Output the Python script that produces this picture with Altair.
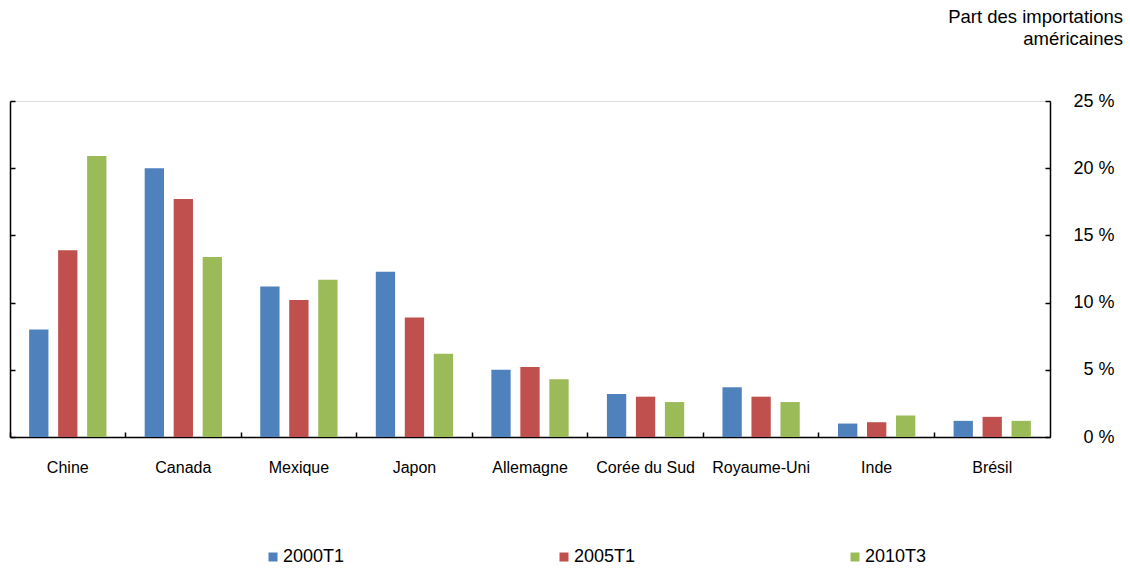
import altair as alt
import pandas as pd

# Part des importations américaines par pays d'origine (en %)
pays = ["Chine", "Canada", "Mexique", "Japon", "Allemagne",
        "Corée du Sud", "Royaume-Uni", "Inde", "Brésil"]
periodes = ["2000T1", "2005T1", "2010T3"]
part_2000t1 = [8.0, 20.0, 11.2, 12.3, 5.0, 3.2, 3.7, 1.0, 1.2]
part_2005t1 = [13.9, 17.7, 10.2, 8.9, 5.2, 3.0, 3.0, 1.1, 1.5]
part_2010t3 = [20.9, 13.4, 11.7, 6.2, 4.3, 2.6, 2.6, 1.6, 1.2]
graduations = [0, 5, 10, 15, 20, 25]
couleurs = ["#4F81BD", "#C0504D", "#9BBB59"]

rows = []
for periode, valeurs in zip(periodes, [part_2000t1, part_2005t1, part_2010t3]):
    for p, v in zip(pays, valeurs):
        rows.append({"Pays": p, "Période": periode, "Part": v})
df = pd.DataFrame(rows)

FONT = "Liberation Sans"
x_scale = alt.Scale(domain=pays, paddingInner=0, paddingOuter=0)
y_scale = alt.Scale(domain=[0, 25], nice=False, zero=True)
base = alt.Chart(df)

# Barres groupées, axe horizontal et axe gauche (trait seul)
barres = base.mark_bar().encode(
    x=alt.X("Pays:N", scale=x_scale, sort=pays,
            axis=alt.Axis(orient="bottom", title=None, labelAngle=0, ticks=False,
                          domainColor="black", domainWidth=1.5, labelPadding=22,
                          labelFontSize=16, labelColor="black", labelFont=FONT)),
    xOffset=alt.XOffset("Période:N", sort=periodes,
                        scale=alt.Scale(domain=periodes, paddingInner=0.334, paddingOuter=0.66)),
    y=alt.Y("Part:Q", scale=y_scale,
            axis=alt.Axis(orient="left", title=None, labels=False, ticks=False, grid=False,
                          domainColor="black", domainWidth=1.5)),
    color=alt.Color("Période:N", sort=periodes,
                    scale=alt.Scale(domain=periodes, range=couleurs),
                    legend=alt.Legend(title=None, orient="none", legendX=254, legendY=447,
                                      direction="horizontal", symbolType="square",
                                      symbolSize=81, symbolStrokeWidth=0,
                                      labelFontSize=18, labelFont=FONT, labelColor="black",
                                      labelOffset=1, columnPadding=210)),
)

# Graduations tournées vers l'intérieur en bas, axe droit avec étiquettes
droite = base.mark_point(opacity=0).encode(
    x=alt.X("Pays:N", scale=x_scale, sort=pays,
            axis=alt.Axis(orient="bottom", title=None, labels=False, domain=False,
                          ticks=True, tickSize=5, offset=-5, bandPosition=0,
                          tickColor="black", tickWidth=1.5, grid=False)),
    y=alt.Y("Part:Q", scale=y_scale,
            axis=alt.Axis(orient="right", title=None, values=graduations, ticks=False,
                          grid=False, domainColor="black", domainWidth=1.5,
                          labelExpr="datum.value + ' %'", labelAlign="right",
                          labelBaseline="middle", labelPadding=64, labelFontSize=18,
                          labelFont=FONT, labelColor="black")),
)

# Graduations intérieures des deux axes verticaux
grad_gauche = base.mark_point(opacity=0).encode(
    x=alt.X("Pays:N", scale=x_scale, sort=pays, axis=None),
    y=alt.Y("Part:Q", scale=y_scale,
            axis=alt.Axis(orient="left", title=None, values=graduations, labels=False,
                          domain=False, grid=False, ticks=True, tickSize=5, offset=-5,
                          tickColor="black", tickWidth=1.5)),
)
grad_droite = base.mark_point(opacity=0).encode(
    x=alt.X("Pays:N", scale=x_scale, sort=pays, axis=None),
    y=alt.Y("Part:Q", scale=y_scale,
            axis=alt.Axis(orient="right", title=None, values=graduations, labels=False,
                          domain=False, grid=False, ticks=True, tickSize=5, offset=-5,
                          tickColor="black", tickWidth=1.5)),
)

chart = (
    alt.layer(barres, droite, grad_gauche, grad_droite)
    .resolve_axis(x="independent", y="independent")
    .properties(
        width=1040,
        height=336,
        padding={"left": 10, "top": 101, "right": 80, "bottom": 131},
        autosize=alt.AutoSizeParams(type="none"),
        title=alt.TitleParams(
            ["Part des importations", "américaines"],
            orient="top", anchor="end", frame="group", align="right",
            dx=73, offset=44, fontSize=18.5, fontWeight="normal", font=FONT,
            color="black", lineHeight=22,
        ),
    )
    .configure_view(stroke="transparent", strokeWidth=0)
    .configure(background="white")
)

chart.save("out.html", embed_options={"renderer": "svg", "actions": False})
